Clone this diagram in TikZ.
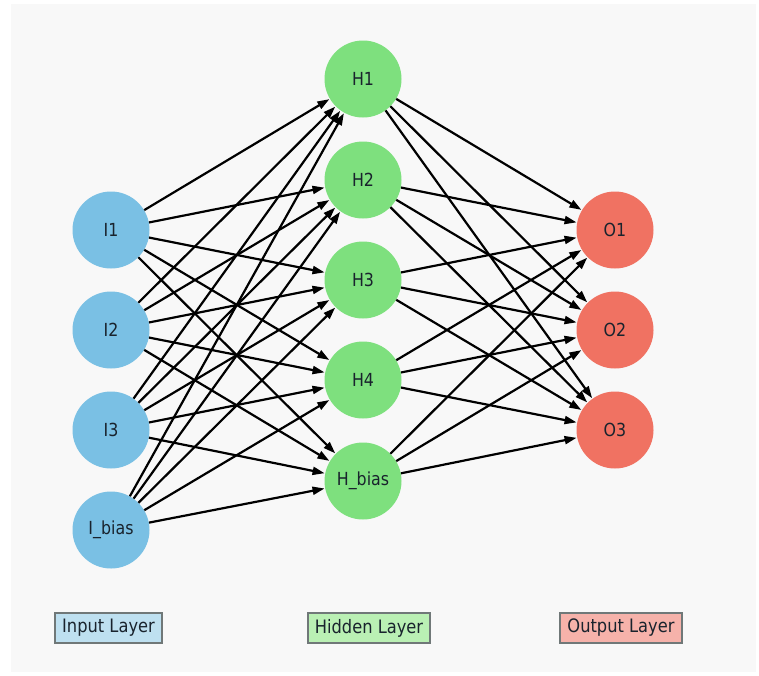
\documentclass[tikz,border=0pt]{standalone}
\usepackage{fontspec}
\setmainfont{DejaVu Sans}[FakeStretch=0.88]
\usetikzlibrary{arrows.meta}

\definecolor{inputfill}{RGB}{122,192,228}
\definecolor{hiddenfill}{RGB}{126,224,126}
\definecolor{outputfill}{RGB}{240,114,98}
\definecolor{inputkey}{RGB}{190,224,240}
\definecolor{hiddenkey}{RGB}{186,240,180}
\definecolor{outputkey}{RGB}{246,178,170}
\definecolor{canvas}{RGB}{248,248,248}
\definecolor{keyedge}{RGB}{112,120,120}
\definecolor{labeltext}{RGB}{25,35,45}

\tikzset{
  neuron/.style={circle, draw=none, minimum size=77pt, inner sep=0pt,
    font=\fontsize{18}{18}\selectfont, text=labeltext},
  inputn/.style={neuron, fill=inputfill},
  hiddenn/.style={neuron, fill=hiddenfill},
  outputn/.style={neuron, fill=outputfill},
  synapse/.style={line width=2.2pt, black, -{Triangle[length=12pt,width=8pt]},
    shorten >=0.5pt},
  layerkey/.style={rectangle, draw=keyedge, line width=1.2pt, minimum height=30pt,
    inner sep=0pt, font=\fontsize{18.5}{18.5}\selectfont, text=labeltext}
}

\begin{document}
\begin{tikzpicture}[x=1pt,y=-1pt]
  \useasboundingbox (0,0) rectangle (759,675);
  \fill[white] (0,0) rectangle (759,675);
  \fill[canvas] (11,4) rectangle (756,672);

  % input layer
  \node[inputn] (I1) at (111,230) {I1};
  \node[inputn] (I2) at (111,330) {I2};
  \node[inputn] (I3) at (111,430) {I3};
  \node[inputn] (Ib) at (111,530) {I\_bias};

  % hidden layer
  \node[hiddenn] (H1) at (363,79) {H1};
  \node[hiddenn] (H2) at (363,180) {H2};
  \node[hiddenn] (H3) at (363,280) {H3};
  \node[hiddenn] (H4) at (363,380) {H4};
  \node[hiddenn] (Hb) at (363,481) {H\_bias};

  % output layer
  \node[outputn] (O1) at (615,230) {O1};
  \node[outputn] (O2) at (615,330) {O2};
  \node[outputn] (O3) at (615,430) {O3};

  % fully connected weights
  \foreach \a in {I1,I2,I3,Ib}
    \foreach \b in {H1,H2,H3,H4,Hb}
      \draw[synapse] (\a) -- (\b);
  \foreach \a in {H1,H2,H3,H4,Hb}
    \foreach \b in {O1,O2,O3}
      \draw[synapse] (\a) -- (\b);

  % layer legend
  \node[layerkey, fill=inputkey, minimum width=107pt] (kin) at (108.5,628) {Input Layer};
  \node[layerkey, fill=hiddenkey, minimum width=122pt] (khid) at (369,628) {Hidden Layer};
  \node[layerkey, fill=outputkey, minimum width=122pt] (kout) at (621,628) {Output Layer};
\end{tikzpicture}
\end{document}
